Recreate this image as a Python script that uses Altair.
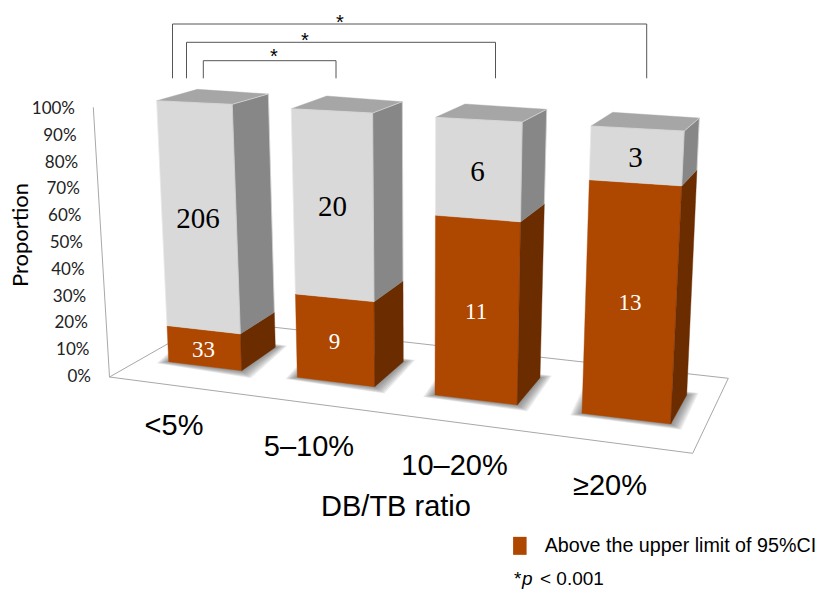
import altair as alt
import pandas as pd

# Patient counts per DB/TB ratio group
categories = ["<5%", "5–10%", "10–20%", "≥20%"]
above_counts = [33, 9, 11, 13]
within_counts = [206, 20, 6, 3]
tick_shares = [0.0, 0.1, 0.2, 0.3, 0.4, 0.5, 0.6, 0.7, 0.8, 0.9, 1.0]
legend_label = "Above the upper limit of 95%CI"

W, H = 816, 589
SANS = "Liberation Sans"
SERIF = "Liberation Serif"
LABEL_FONT = "Lato"

# Perspective frame of each box: front-left, front-right, back-right and
# back-left corners at the top, then the three visible corners at the floor.
BOX_FRAMES = [
    {"top": [(156.7, 100.7), (232.3, 104.3), (268.3, 94.0), (197.3, 89.3)],
     "floor": [(168.7, 361.7), (241.7, 370.7), (275.3, 347.3)]},
    {"top": [(291.3, 108.7), (372.7, 113.0), (402.3, 101.7), (326.7, 96.0)],
     "floor": [(297.3, 377.3), (374.7, 386.7), (403.3, 361.7)]},
    {"top": [(435.7, 117.3), (522.3, 122.0), (546.7, 109.3), (465.0, 104.0)],
     "floor": [(435.0, 395.0), (517.3, 405.0), (540.0, 377.7)]},
    {"top": [(591.0, 126.0), (684.3, 131.0), (699.3, 118.0), (612.7, 112.3)],
     "floor": [(582.0, 413.3), (670.7, 424.0), (686.7, 395.0)]},
]
FLOOR_OUTLINE = [(109.5, 377), (692.7, 453.3), (728.3, 378.3), (209.6, 320), (109.5, 377)]
AXIS_EDGE = [(93.3, 107.3), (109.5, 377)]
ZERO_Y, FULL_Y = 377.0, 109.0

# Bracket spans: left x, right x, bar y, star x, star y
BRACKETS = [
    (172.5, 646.7, 24.0, 340, 18),
    (186.5, 495.5, 42.3, 305, 36),
    (203.3, 336.0, 60.7, 274, 52),
]
BRACKET_FOOT = 78.3

KINDS = [legend_label, "above side", "within front", "within side", "top"]
KIND_COLORS = ["#ae4700", "#6b2c00", "#d9d9d9", "#878787", "#a6a6a6"]


def share_of(py):
    """Convert a pixel row into the proportion scale."""
    return (ZERO_Y - py) / (ZERO_Y - FULL_Y)


def lerp(a, b, t):
    return (a[0] + (b[0] - a[0]) * t, a[1] + (b[1] - a[1]) * t)


def band_rows(points, face, **extra):
    """Turn a convex polygon into the x / upper / lower rows of an area mark."""
    n = len(points)
    rows = []
    for x in sorted({p[0] for p in points}):
        hits = []
        for i in range(n):
            (x0, y0), (x1, y1) = points[i], points[(i + 1) % n]
            if min(x0, x1) <= x <= max(x0, x1):
                if x0 == x1:
                    hits += [y0, y1]
                else:
                    hits.append(y0 + (y1 - y0) * (x - x0) / (x1 - x0))
        rows.append({"x": x, "y": share_of(min(hits)), "y2": share_of(max(hits)),
                     "face": face, **extra})
    return rows


def polyline(points, group=0):
    return [{"x": p[0], "y": share_of(p[1]), "step": k, "group": group} for k, p in enumerate(points)]


face_rows, shadow_rows, count_rows, bevel_rows = [], [], [], []
for i, frame in enumerate(BOX_FRAMES):
    share = above_counts[i] / (above_counts[i] + within_counts[i])
    tfl, tfr, tbr, tbl = frame["top"]
    ffl, ffr, fbr = frame["floor"]
    mfl, mfr, mbr = lerp(ffl, tfl, share), lerp(ffr, tfr, share), lerp(fbr, tbr, share)

    face_rows += band_rows([ffl, ffr, mfr, mfl], f"{i}a", kind=legend_label)
    face_rows += band_rows([ffr, fbr, mbr, mfr], f"{i}b", kind="above side")
    face_rows += band_rows([mfl, mfr, tfr, tfl], f"{i}c", kind="within front")
    face_rows += band_rows([mfr, mbr, tbr, tfr], f"{i}d", kind="within side")
    face_rows += band_rows([tfl, tfr, tbr, tbl], f"{i}e", kind="top")

    # Pale highlight along the bevelled edges of the grey segment
    bevel_rows += polyline([mfl, tfl, tfr, mfr], f"{i}f")
    bevel_rows += polyline([tfr, tbr, mbr], f"{i}s")

    # Soft contact shadow: nested footprints growing outwards
    fbl = (ffl[0] + fbr[0] - ffr[0], ffl[1] + fbr[1] - ffr[1])
    foot = [ffl, ffr, fbr, fbl]
    cx = sum(p[0] for p in foot) / 4
    cy = sum(p[1] for p in foot) / 4
    for level, grow in enumerate([1.5, 3, 4.5, 6, 7.5, 9, 10.5, 12]):
        grown = []
        for px, py in foot:
            d = ((px - cx) ** 2 + (py - cy) ** 2) ** 0.5
            grown.append((px + (px - cx) / d * grow, py + (py - cy) / d * grow))
        shadow_rows += band_rows(grown, f"{i}-{level}")

    # Counts sit at the middle of their front segment
    low_mid = lerp(lerp(ffl, ffr, 0.5), lerp(mfl, mfr, 0.5), 0.5)
    high_mid = lerp(lerp(mfl, mfr, 0.5), lerp(tfl, tfr, 0.5), 0.5)
    count_rows.append({"x": low_mid[0] - 1, "y": share_of(low_mid[1] + 2.5), "label": str(above_counts[i]),
                       "tone": "above"})
    count_rows.append({"x": high_mid[0] - 1, "y": share_of(high_mid[1] + 2.5), "label": str(within_counts[i]),
                       "tone": "within"})

x_scale = alt.Scale(domain=[0, W], range=[0, W], nice=False, zero=False)
y_scale = alt.Scale(domain=[share_of(H), share_of(0)], range=[H, 0], nice=False, zero=False)
X = alt.X("x:Q", scale=x_scale, axis=None)
Y = alt.Y("y:Q", scale=y_scale, axis=None)


def line_layer(rows, color, width, **kw):
    return alt.Chart(pd.DataFrame(rows)).mark_line(color=color, strokeWidth=width, interpolate="linear", **kw).encode(
        x=X, y=Y, order="step:Q", detail="group:N")


def text_layer(rows, font, size, color="#000000", align="center", baseline="middle", **kw):
    return alt.Chart(pd.DataFrame(rows)).mark_text(
        font=font, fontSize=size, color=color, align=align, baseline=baseline, **kw
    ).encode(x=X, y=Y, text="label:N")


floor = line_layer(polyline(FLOOR_OUTLINE), "#a8a8a8", 1)
axis_edge = line_layer(polyline(AXIS_EDGE), "#a8a8a8", 1)

shadows = alt.Chart(pd.DataFrame(shadow_rows)).mark_area(
    color="#4d4d4d", opacity=0.1, orient="vertical"
).encode(x=X, y=alt.Y("y:Q", scale=y_scale, axis=None, stack=None), y2="y2:Q", detail="face:N")

faces = alt.Chart(pd.DataFrame(face_rows)).mark_area(orient="vertical", strokeWidth=0.4).encode(
    x=X,
    y=alt.Y("y:Q", scale=y_scale, axis=None, stack=None),
    y2="y2:Q",
    detail="face:N",
    color=alt.Color(
        "kind:N",
        scale=alt.Scale(domain=KINDS, range=KIND_COLORS),
        legend=alt.Legend(
            values=[legend_label], title=None, orient="none", legendX=510, legendY=536,
            symbolType="M-0.75,-1H0.75V1H-0.75Z", symbolSize=324, symbolStrokeWidth=0,
            labelFont=SANS, labelFontSize=19.7, labelColor="#000000", labelLimit=320,
            labelOffset=15, padding=0, symbolOpacity=1,
        ),
    ),
    stroke=alt.Color("kind:N", scale=alt.Scale(domain=KINDS, range=KIND_COLORS), legend=None),
)

bevels = line_layer(bevel_rows, "#ececec", 0.9, opacity=0.6)

# Proportion ticks drift along the slanted axis edge
tick_rows = [{"x": 91 - 16 * s, "y": s, "label": f"{round(s * 100)}%"} for s in tick_shares]
ticks = text_layer(tick_rows, LABEL_FONT, 17, color="#222222", align="right")

y_title = text_layer([{"x": 21, "y": share_of(235), "label": "Proportion"}], LABEL_FONT, 22, angle=270)

CATEGORY_SPOTS = [(174, 426), (309, 447), (454.5, 466), (610, 486)]
cat_rows = [{"x": p[0], "y": share_of(p[1]), "label": c} for c, p in zip(categories, CATEGORY_SPOTS)]
cat_text = text_layer(cat_rows, SANS, 29)
x_title = text_layer([{"x": 396, "y": share_of(507), "label": "DB/TB ratio"}], SANS, 29)

counts = pd.DataFrame(count_rows)
within_text = text_layer(counts[counts.tone == "within"].to_dict("records"), SERIF, 29)
above_text = text_layer(counts[counts.tone == "above"].to_dict("records"), SERIF, 23, color="#ffffff")

bracket_rows = []
star_rows = []
for g, (x0, x1, bar, sx, sy) in enumerate(BRACKETS):
    bracket_rows += polyline([(x0, BRACKET_FOOT), (x0, bar), (x1, bar), (x1, BRACKET_FOOT)], g)
    star_rows.append({"x": sx, "y": share_of(sy + 5), "label": "*"})
brackets = line_layer(bracket_rows, "#555555", 1)
stars = text_layer(star_rows, SANS, 20)

note_star = text_layer([{"x": 514, "y": share_of(585), "label": "*"}], SANS, 19, align="left", baseline="alphabetic")
note_p = text_layer([{"x": 522, "y": share_of(585), "label": "p"}], SANS, 19, align="left", baseline="alphabetic",
                    fontStyle="italic")
note_rest = text_layer([{"x": 540, "y": share_of(585), "label": "< 0.001"}], SANS, 19, align="left", baseline="alphabetic")

chart = alt.layer(
    floor, axis_edge, shadows, faces, bevels, ticks, y_title, cat_text, x_title,
    within_text, above_text, brackets, stars, note_star, note_p, note_rest,
).properties(
    width=W, height=H, padding=0, autosize=alt.AutoSizeParams(type="none"),
    background="#ffffff",
).configure_view(stroke=None).resolve_scale(color="shared")

chart.save("out.html", embed_options={"renderer": "svg", "actions": False})
